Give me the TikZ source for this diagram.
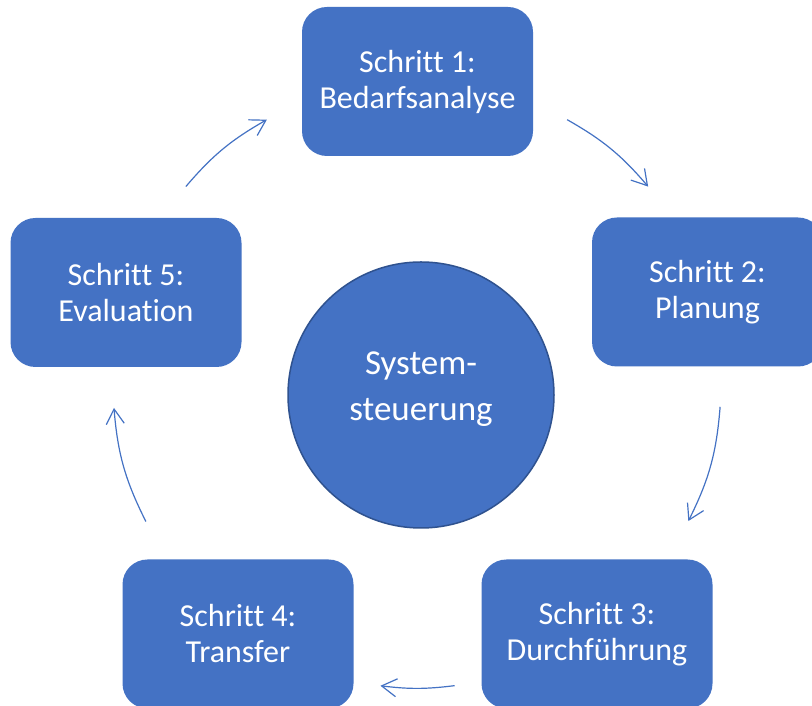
\documentclass[tikz,border=0pt]{standalone}
\usepackage{fontspec}
\setmainfont{Carlito}[Ligatures=NoCommon]
\usetikzlibrary{arrows.meta,calc}
\definecolor{accent}{HTML}{4472C4}
\definecolor{accentdark}{HTML}{2F528F}
\begin{document}
\begin{tikzpicture}[x=1pt,y=1pt,
  stepbox/.style={rectangle, rounded corners=25pt, fill=accent, draw=none,
    minimum width=231pt, minimum height=149pt, text=white, align=center,
    font=\fontsize{32}{36}\selectfont},
  hub/.style={circle, fill=accent, draw=accentdark, line width=1.5pt,
    minimum size=266pt, inner sep=0pt},
  hubtext/.style={text=white, align=center, font=\fontsize{35}{46}\selectfont},
  cyc/.style={draw=accent, line width=1.2pt,
    -{Straight Barb[length=15pt,width=18pt,line width=1.2pt]}}]
  \clip (0,0) rectangle (812,706);
  \fill[white] (0,0) rectangle (812,706);

  % centre of the cycle
  \coordinate (O) at (417,322);

  % central circle
  \node[hub] (hub) at (421,311) {};
  \node[hubtext] (hubt) at (421,317) {System-\\steuerung};

  % the five steps
  \node[stepbox] (s1) at (417.5,624.5) {Schritt 1:\\Bedarfsanalyse};
  \node[stepbox] (s2) at (707.5,414) {Schritt 2:\\Planung};
  \node[stepbox] (s3) at (597,72) {Schritt 3:\\Durchführung};
  \node[stepbox] (s4) at (238,72) {Schritt 4:\\Transfer};
  \node[stepbox] (s5) at (126,413.5) {Schritt 5:\\Evaluation};

  % arrow end points on the cycle circle
  \coordinate (a1) at ($(O)+(60.4:304)$);
  \coordinate (b1) at ($(O)+(40.5:304)$);
  \coordinate (a2) at ($(O)+(-4.3:304)$);
  \coordinate (b2) at ($(O)+(-26.8:304)$);
  \coordinate (a3) at ($(O)+(-82.9:304)$);
  \coordinate (b3) at ($(O)+(-96.9:304)$);
  \coordinate (a4) at ($(O)+(-153.1:304)$);
  \coordinate (b4) at ($(O)+(-175.5:304)$);
  \coordinate (a5) at ($(O)+(139.5:304)$);
  \coordinate (b5) at ($(O)+(119.6:304)$);

  % clockwise arrows
  \draw[cyc] (a1) to[bend left=10] (b1);
  \draw[cyc] (a2) to[bend left=11] (b2);
  \draw[cyc] (a3) to[bend left=7] (b3);
  \draw[cyc] (a4) to[bend left=11] (b4);
  \draw[cyc] (a5) to[bend left=10] (b5);
\end{tikzpicture}
\end{document}
